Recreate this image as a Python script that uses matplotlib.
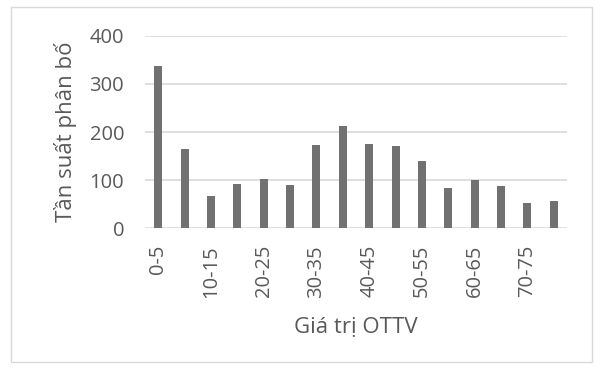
import matplotlib
matplotlib.use("Agg")
import matplotlib.pyplot as plt
from matplotlib.patches import Rectangle

categories = ["0-5", "5-10", "10-15", "15-20", "20-25", "25-30", "30-35", "35-40",
              "40-45", "45-50", "50-55", "55-60", "60-65", "65-70", "70-75", "75-80"]
values = [337, 164, 68, 93, 102, 90, 173, 212, 175, 170, 140, 83, 101, 88, 53, 57]
yticks = [0, 100, 200, 300, 400]

plt.rcParams['font.family'] = ['Open Sans', 'DejaVu Sans']
text_color = "#595959"

fig = plt.figure(figsize=(5.97, 3.68), dpi=100)
W, H = 597, 368
fig.patches.append(Rectangle((11 / W, 1 - 362 / H), (592 - 11) / W, (362 - 7) / H,
                             transform=fig.transFigure, fill=False,
                             edgecolor="#d9d9d9", linewidth=1.0))

ax = fig.add_axes([145 / W, 1 - 228.3 / H, (567 - 145) / W, (228.3 - 35.7) / H])
x = list(range(len(categories)))
ax.bar(x, values, width=0.3, color="#717171", zorder=3)
ax.set_xlim(-0.5, len(categories) - 0.5)
ax.set_ylim(0, 400)
ax.set_yticks(yticks)
ax.set_yticklabels([str(v) for v in yticks])
ax.set_xticks(x[::2])
ax.set_xticklabels(categories[::2], rotation=90)
ax.grid(axis="y", color="#d9d9d9", linewidth=1.2, zorder=0)
for s in ax.spines.values():
    s.set_visible(False)
ax.tick_params(axis="both", length=0, colors=text_color, labelsize=14.5)
ax.tick_params(axis="y", pad=15)
ax.tick_params(axis="x", pad=12)
ax.set_xlabel("Giá trị OTTV", color=text_color, fontsize=16, labelpad=14)
ax.set_ylabel("Tần suất phân bố", color=text_color, fontsize=16, labelpad=9)

fig.savefig("out.png", dpi=100)
